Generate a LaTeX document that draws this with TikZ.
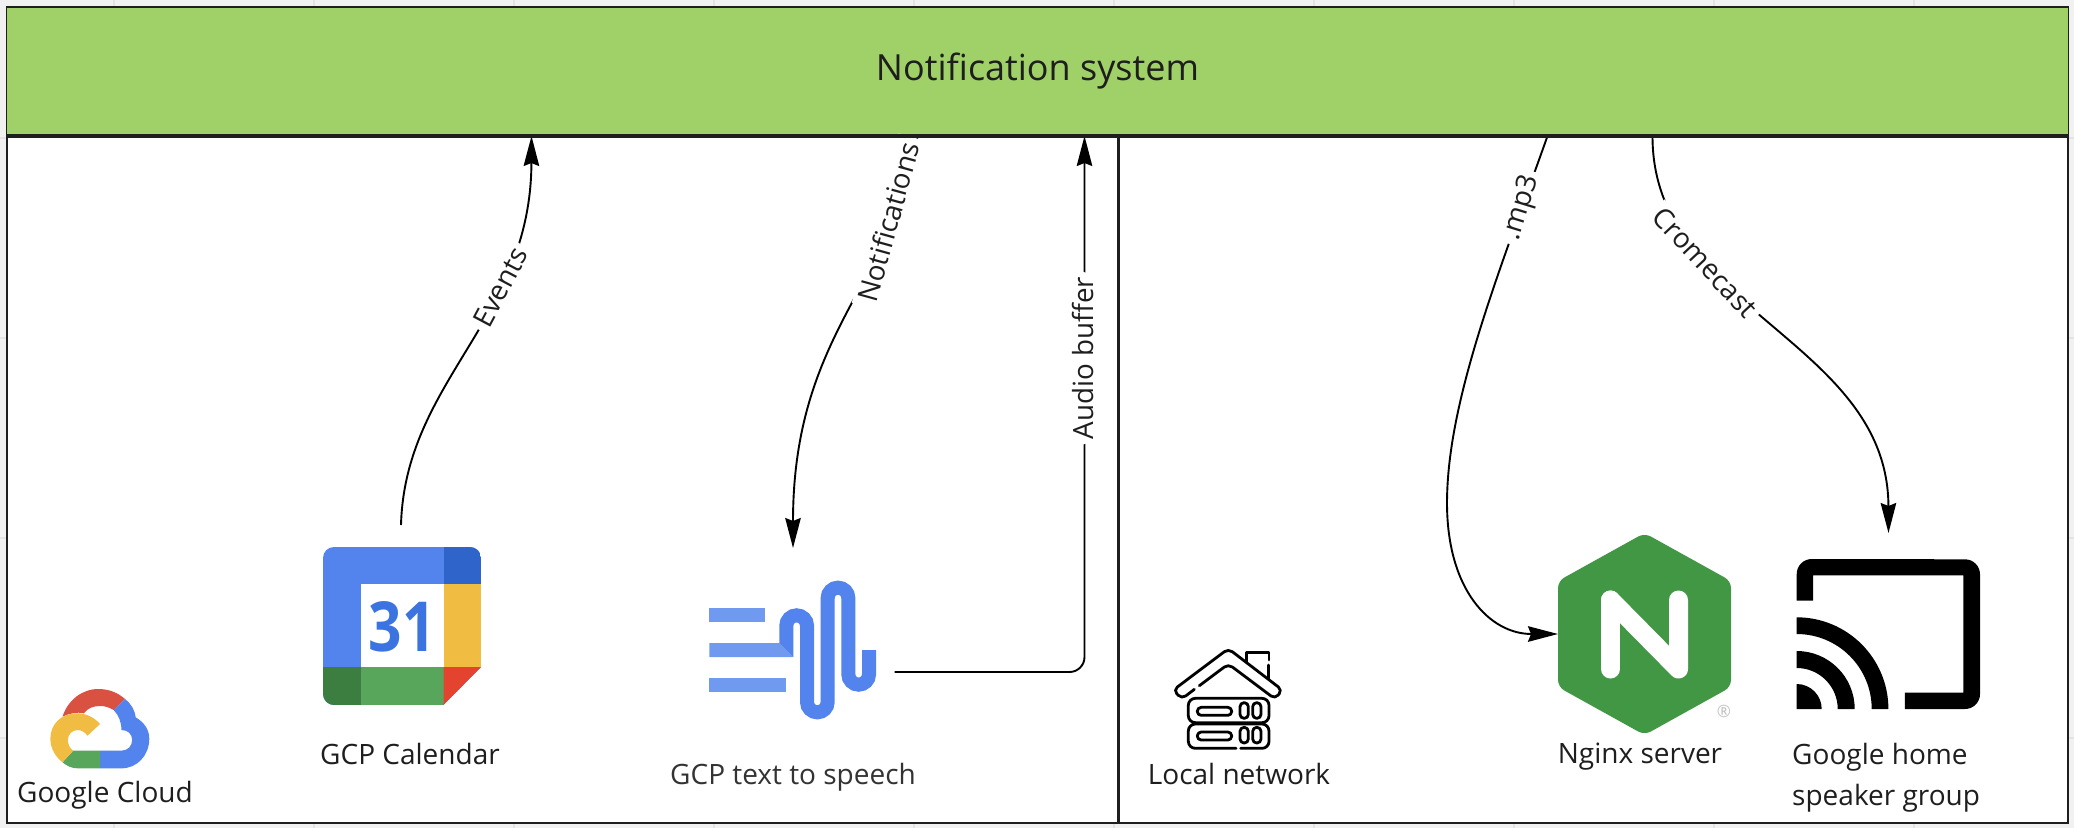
\documentclass[tikz,border=0pt]{standalone}
\usepackage{fontspec}
\setmainfont{Open Sans}
\usetikzlibrary{arrows.meta,calc}
\definecolor{pagebg}{HTML}{F1F1F1}
\definecolor{gridc}{HTML}{E3E3E3}
\definecolor{ink}{HTML}{1E1E1E}
\definecolor{barc}{HTML}{A0D168}
\definecolor{gblue}{HTML}{5383EC}
\definecolor{gdblue}{HTML}{2F65CB}
\definecolor{gyellow}{HTML}{F0BC42}
\definecolor{ggreen}{HTML}{58A65C}
\definecolor{gdgreen}{HTML}{3C7D40}
\definecolor{gred}{HTML}{E4432F}
\definecolor{cred}{HTML}{D95140}
\definecolor{lblue}{HTML}{7099F0}
\definecolor{calnum}{HTML}{3B74E0}
\definecolor{ngreen}{HTML}{429745}
\tikzset{
  conn/.style={draw=black,line width=1.9pt,-{Stealth[length=30pt,width=15.5pt,inset=3pt]}},
  edgelabel/.style={fill=white,text=ink,font=\fontsize{27.8}{32}\selectfont,inner xsep=5pt,inner ysep=0pt,minimum height=27pt},
  caption/.style={text=ink,font=\fontsize{28}{41}\selectfont,inner sep=0pt,align=left},
  iconbox/.style={inner sep=0pt,outer sep=0pt,draw=none,fill=none},
  homeline/.style={draw=black,line width=2.8pt,line cap=round,line join=round},
}
\begin{document}
\begin{tikzpicture}[x=1pt,y=-1pt]
\useasboundingbox (0,0) rectangle (2074,828);
\fill[pagebg] (0,0) rectangle (2074,828);
\foreach \gx in {114,314,...,2074} \draw[gridc,line width=1.5pt] (\gx,0) -- (\gx,828);
\foreach \gy in {138,338,538,738} \draw[gridc,line width=1.5pt] (0,\gy) -- (2074,\gy);
\draw[ink,fill=white,line width=2pt] (7,7) rectangle (2068,823);

% bar and divider
\node[iconbox,fill=barc,minimum width=2061pt,minimum height=129pt] (bar) at (1037.5,71.5) {};
\node[text=ink,font=\fontsize{36}{40}\selectfont,inner sep=0pt] (title) at (1037.5,71) {Notification system};
\draw[ink,line width=2pt] (7,7) -- (2068,7);
\draw[ink,line width=3pt] (1118,136) -- (1118,823);

% Google Cloud logo
\node[iconbox,minimum width=99pt,minimum height=79pt] (gcl) at (99.5,728.5) {};
\begin{scope}[shift={(0,500)},x=0.35714pt,y=-0.33333pt]
  \fill[cred] (175,650) .. controls (190,600) and (230,567) .. (275,567)
     .. controls (305,567) and (330,578) .. (350,597) -- (318,630)
     .. controls (305,622) and (295,618) .. (280,618) .. controls (260,618) and (245,625) .. (235,640)
     .. controls (215,635) and (195,640) .. (175,650) -- cycle;
  \fill[gblue] (350,597) .. controls (368,612) and (378,632) .. (380,652)
     .. controls (405,668) and (418,690) .. (418,716) .. controls (418,765) and (385,805) .. (340,805)
     -- (280,805) -- (280,752) -- (340,752) .. controls (358,752) and (370,738) .. (370,720)
     .. controls (370,702) and (358,690) .. (340,690) .. controls (340,665) and (332,645) .. (318,630) -- cycle;
  \fill[ggreen] (280,752) -- (205,752) -- (175,787) .. controls (188,798) and (200,805) .. (218,805) -- (280,805) -- cycle;
  \fill[gyellow] (280,672) .. controls (262,650) and (240,640) .. (215,640)
     .. controls (172,640) and (141,672) .. (141,716) .. controls (141,745) and (155,770) .. (175,787)
     -- (205,752) .. controls (195,745) and (190,732) .. (190,720)
     .. controls (190,703) and (202,690) .. (218,690) .. controls (228,690) and (238,697) .. (245,707) -- cycle;
\end{scope}
\node[caption] (gcltxt) at (105,795.5) {Google Cloud};

% Calendar
\node[iconbox,minimum width=158pt,minimum height=158pt] (cal) at (402,626) {};
\begin{scope}
  \clip (334,547) -- (470,547) arc[start angle=270,end angle=360,radius=11] -- (481,667)
     -- (443.5,705) -- (334,705) arc[start angle=90,end angle=180,radius=11]
     -- (323,558) arc[start angle=180,end angle=270,radius=11] -- cycle;
  \fill[gblue] (323,547) rectangle (481,705);
  \fill[gdblue] (443.5,547) rectangle (481,584);
  \fill[gyellow] (443.5,584) rectangle (481,667);
  \fill[ggreen] (361,667) rectangle (443.5,705);
  \fill[gdgreen] (323,667) rectangle (361,705);
  \fill[gred] (443.5,667) -- (481,667) -- (443.5,705) -- cycle;
  \fill[white] (361,584) rectangle (443.5,667);
\end{scope}
\node[text=calnum,font=\fontsize{69}{70}\selectfont\bfseries,inner sep=0pt,xscale=0.85] (calnum) at (402,626.5) {31};
\node[caption] (caltxt) at (410,754) {GCP Calendar};

% Text to speech
\node[iconbox,minimum width=167pt,minimum height=138pt] (tts) at (793,650) {};
\begin{scope}[shift={(660,540)},x=0.33333pt,y=-0.33333pt]
  \fill[lblue] (148,205) rectangle (316,247);
  \fill[lblue] (148,309) -- (358,309) -- (400,351) -- (148,351) -- cycle;
  \fill[lblue] (148,413) rectangle (378,455);
  \fill[gblue] (358,309) -- (400,309) -- (400,351) -- cycle;
  \draw[gblue,line width=14pt] (379,309) -- (379,257) arc[start angle=180,end angle=360,radius=31]
     -- (441,486) arc[start angle=180,end angle=0,radius=31]
     -- (503,174) arc[start angle=180,end angle=360,radius=31]
     -- (565,403) arc[start angle=180,end angle=0,radius=31] -- (627,330);
\end{scope}
\node[caption,text=black!80] (ttstxt) at (793,777.5) {GCP text to speech};

% House
\node[iconbox,minimum width=107pt,minimum height=99pt] (home) at (1228.5,699.5) {};
\begin{scope}[shift={(1150,630)},x=0.33333pt,y=-0.33333pt]
  \draw[homeline,rounded corners=5pt] (148,167) -- (235,102) -- (375,207) -- (397,180) -- (235,56) -- (70,180) -- (95,207) -- (133,178);
  \draw[homeline] (290,95) -- (290,68) -- (357,68) -- (357,90);
  \draw[homeline] (355,105) -- (355,145);
  \draw[homeline,rounded corners=7pt] (115,205) rectangle (357,278);
  \draw[homeline,rounded corners=7pt] (258,355) -- (115,355) -- (115,282) -- (357,282) -- (357,355) -- (272,355);
  \foreach \ry in {0,74}{
    \draw[homeline,rounded corners=3.8pt] (142,232+\ry) rectangle (245,256+\ry);
    \draw[homeline,rounded corners=4pt] (270,218+\ry) rectangle (295,265+\ry);
    \draw[homeline,rounded corners=4pt] (308,218+\ry) rectangle (333,265+\ry);
  }
\end{scope}
\node[caption] (hometxt) at (1239,774) {Local network};

% Nginx
\node[iconbox,minimum width=173pt,minimum height=197pt] (nginx) at (1644.5,634) {};
\fill[ngreen,rounded corners=7pt] (1644.5,533) -- (1731,581) -- (1731,687) -- (1644.5,735) -- (1558,687) -- (1558,581) -- cycle;
\draw[white,line width=19pt,line cap=round,line join=round] (1610.5,600) -- (1610.5,669);
\draw[white,line width=19pt,line cap=round,line join=round] (1610.5,600) -- (1678.5,669) -- (1678.5,600);
\node[text=black!25,font=\fontsize{17}{20}\selectfont,inner sep=0pt] (reg) at (1724,711) {®};
\node[caption] (nginxtxt) at (1640,757) {Nginx server};

% Cast icon
\node[iconbox,minimum width=183pt,minimum height=150pt] (cast) at (1888.5,634) {};
\fill[black] (1796.7,600.7) -- (1796.7,574) arc[start angle=180,end angle=270,radius=15] -- (1965,559.3)
   arc[start angle=270,end angle=360,radius=15] -- (1980,694) arc[start angle=0,end angle=90,radius=15]
   -- (1904.8,709) -- (1904.8,692.7) -- (1963.4,692.7) -- (1963.4,575.3) -- (1813,575.3) -- (1813,600.7) -- cycle;
\fill[black] (1796.7,617.3) arc[start angle=270,end angle=360,radius=91.7] -- +(-16.7,0) arc[start angle=0,end angle=-90,radius=75] -- cycle;
\fill[black] (1796.7,651) arc[start angle=270,end angle=360,radius=58] -- +(-17,0) arc[start angle=0,end angle=-90,radius=41] -- cycle;
\fill[black] (1796.7,684) arc[start angle=270,end angle=360,radius=25] -- (1796.7,709) -- cycle;
\node[caption,anchor=west,align=left] (casttxt) at (1792,777.5) {Google home\\speaker group};

% Connectors
\draw[conn] ([shift={(-1pt,22pt)}]cal.north) .. controls (405,380) and (531,320) .. ([xshift=-506pt]bar.south)
   node[edgelabel,pos=0.66,rotate=62,xshift=3pt,yshift=-2pt] (lev) {Events};
\draw[conn] ([xshift=-120pt]bar.south) .. controls (897,280) and (793,330) .. ([yshift=33pt]tts.north)
   node[edgelabel,pos=0.22,rotate=74.5,xshift=-3pt,yshift=5pt,inner xsep=6pt] (lno) {Notifications};
\draw[conn,rounded corners=15pt] ([shift={(18pt,-22pt)}]tts.east) -| ([xshift=47pt]bar.south)
   node[edgelabel,pos=0.79,rotate=90,xshift=3pt,yshift=2pt] (lau) {Audio buffer};
\draw[conn] ([xshift=510pt]bar.south) .. controls (1500,270) and (1447,400) .. (1447,503)
   node[edgelabel,pos=0.18,rotate=73] (lmp) {.mp3}
   .. controls (1447,590) and (1490,634) .. (nginx.west);
\draw[conn] ([xshift=615pt]bar.south) .. controls (1652,310) and (1888,340) .. ([yshift=26pt]cast.north)
   node[edgelabel,pos=0.3,rotate=-47,xshift=2pt,yshift=1pt] (lcr) {Cromecast};

\draw[ink,line width=3.5pt] (7,136) -- (2068,136);
\end{tikzpicture}
\end{document}
